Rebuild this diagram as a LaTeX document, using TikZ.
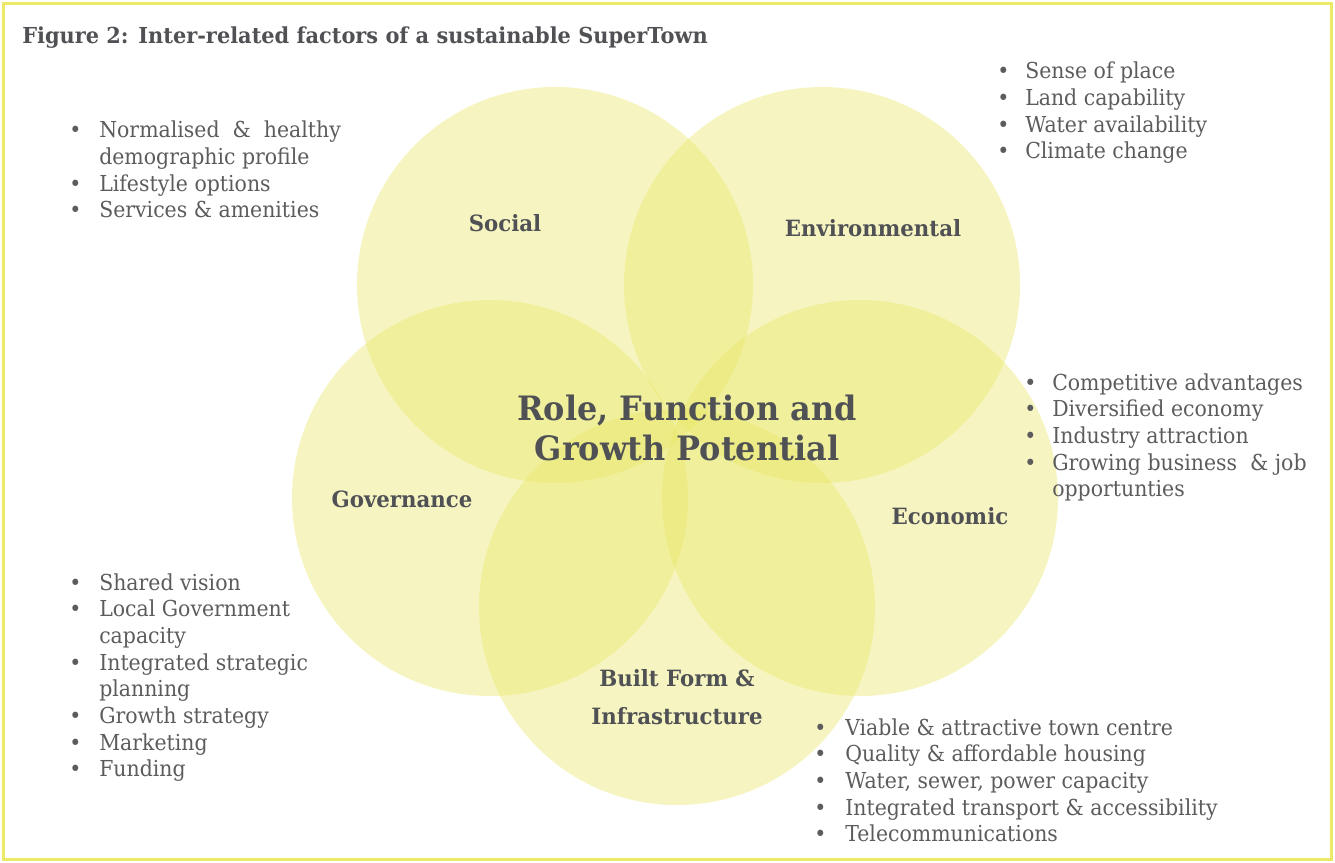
\documentclass[tikz,border=0pt]{standalone}
\usepackage{fontspec}
\newfontfamily\bodyfont{DejaVu Serif}[FakeStretch=0.93]
\newfontfamily\labfont{DejaVu Serif}[FakeStretch=0.95]
\definecolor{framec}{RGB}{236,233,105}
\definecolor{circc}{RGB}{232,230,100}
\definecolor{txtc}{RGB}{92,92,94}
\definecolor{lblc}{RGB}{80,81,84}
\newcommand{\bul}{\textbullet}
\tikzset{
  lst/.style={anchor=base west, inner sep=0pt, text=txtc, font=\bodyfont\fontsize{16.5}{20}\selectfont},
  lbl/.style={anchor=base, inner sep=0pt, text=lblc, font=\labfont\bfseries\fontsize{16.8}{20}\selectfont},
  bigl/.style={anchor=base, inner sep=0pt, text=lblc, font=\labfont\bfseries\fontsize{25.2}{30}\selectfont},
  ttl/.style={anchor=base west, inner sep=0pt, text=lblc, font=\labfont\bfseries\fontsize{16.5}{20}\selectfont},
  venn/.style={fill=circc, fill opacity=0.4, draw=none}
}
\begin{document}
\begin{tikzpicture}[x=0.75pt, y=-0.75pt]
\useasboundingbox (0,0) rectangle (1335,863);
\draw[framec, line width=2.4pt] (3.5,3.5) rectangle (1331.5,859.5);
% circles
\fill[venn] (555,285) circle[radius=148.5pt];
\fill[venn] (822,285) circle[radius=148.5pt];
\fill[venn] (490,498) circle[radius=148.5pt];
\fill[venn] (860,498) circle[radius=148.5pt];
\fill[venn] (677,607) circle[radius=148.5pt];
% title
\node[ttl] (title) at (22,44) {Figure 2: Inter-related factors of a sustainable SuperTown};
% labels
\node[lbl] (social) at (505,232) {Social};
\node[lbl] (env) at (873,237) {Environmental};
\node[lbl] (gov) at (402,507) {Governance};
\node[lbl] (econ) at (950,524) {Economic};
\node[lbl] (built1) at (677,686) {Built Form \&};
\node[lbl] (built2) at (677,724) {Infrastructure};
\node[bigl] (role1) at (687,420) {Role, Function and};
\node[bigl] (role2) at (687,460) {Growth Potential};
% lists
\node[lst] (soclist) at (69,138) {\begin{tabular}[t]{@{}p{22.5pt}@{}l@{}}
\bul & Normalised\ \ \&\ \ healthy\\
 & demographic profile\\
\bul & Lifestyle options\\
\bul & Services \& amenities
\end{tabular}};
\node[lst] (envlist) at (997,79) {\begin{tabular}[t]{@{}p{21pt}@{}l@{}}
\bul & Sense of place\\
\bul & Land capability\\
\bul & Water availability\\
\bul & Climate change
\end{tabular}};
\node[lst] (econlist) at (1024,390) {\begin{tabular}[t]{@{}p{21pt}@{}l@{}}
\bul & Competitive advantages\\
\bul & Diversified economy\\
\bul & Industry attraction\\
\bul & Growing business\ \ \& job\\
 & opportunties
\end{tabular}};
\node[lst] (govlist) at (69,590) {\begin{tabular}[t]{@{}p{22.5pt}@{}l@{}}
\bul & Shared vision\\
\bul & Local Government\\
 & capacity\\
\bul & Integrated strategic\\
 & planning\\
\bul & Growth strategy\\
\bul & Marketing\\
\bul & Funding
\end{tabular}};
\node[lst] (builtlist) at (814,735) {\begin{tabular}[t]{@{}p{23.25pt}@{}l@{}}
\bul & Viable \& attractive town centre\\
\bul & Quality \& affordable housing\\
\bul & Water, sewer, power capacity\\
\bul & Integrated transport \& accessibility\\
\bul & Telecommunications
\end{tabular}};
\end{tikzpicture}
\end{document}
